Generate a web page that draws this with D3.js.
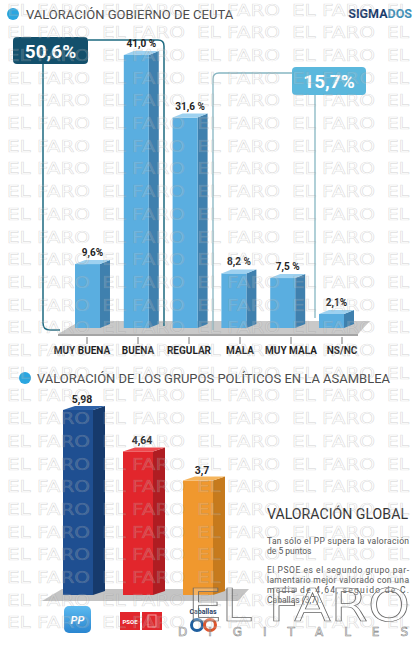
<!DOCTYPE html>
<html lang="es">
<head>
  <meta charset="UTF-8">
  <title>Valoración Gobierno de Ceuta</title>
  <script src="https://d3js.org/d3.v7.min.js"></script>
  <style>
    body { margin: 0; background: #fff; }
    svg { display: block; font-family: Roboto, "Open Sans", sans-serif; }
  </style>
</head>
<body>
  <div id="chart"></div>

  <script>
    // Valoración Gobierno de Ceuta (%)
    const categories = ["MUY BUENA", "BUENA", "REGULAR", "MALA", "MUY MALA", "NS/NC"];
    const values = [9.6, 41.0, 31.6, 8.2, 7.5, 2.1];
    const valueLabels = ["9,6%", "41,0 %", "31,6 %", "8,2 %", "7,5 %", "2,1%"];

    // Valoración de los grupos políticos (media)
    const parties = ["PP", "PSOE", "Caballas"];
    const partyValues = [5.98, 4.64, 3.7];
    const partyLabels = ["5,98", "4,64", "3,7"];

    const noteLines = [
      "Tan sólo el PP supera la valoración",
      "de 5 puntos",
      "",
      "El PSOE es el segundo grupo par-",
      "lamentario mejor valorado con una",
      "media  de  4,64,  seguido  de  C.",
      "Caballas (3,7)."
    ];

    const W = 420, H = 650;
    const svg = d3.select("#chart").append("svg")
      .attr("width", W).attr("height", H);
    const defs = svg.append("defs");

    svg.append("rect").attr("width", W).attr("height", H).attr("fill", "#fff");

    // draws a bar with a small 3d side and top
    function bar3d(g, x, y, w, base, dx, dy, c) {
      g.append("polygon")
        .attr("points", [[x + w, y], [x + w + dx, y - dy], [x + w + dx, base - dy], [x + w, base]].join(" "))
        .attr("fill", c.side);
      g.append("rect")
        .attr("x", x).attr("y", y).attr("width", w).attr("height", base - y)
        .attr("fill", c.front);
      g.append("polygon")
        .attr("points", [[x, y], [x + dx, y - dy], [x + w + dx, y - dy], [x + w, y]].join(" "))
        .attr("fill", c.top);
    }

    // ---------- top chart ----------
    const topG = svg.append("g");

    topG.append("circle").attr("cx", 13).attr("cy", 14).attr("r", 6).attr("fill", "#2aa6e0");
    topG.append("text").attr("x", 26).attr("y", 19)
      .attr("font-size", 13).attr("fill", "#4a4a4a")
      .text("VALORACIÓN GOBIERNO DE CEUTA");

    const sig = topG.append("text").attr("x", 412).attr("y", 18)
      .attr("text-anchor", "end").attr("font-size", 12.5).attr("font-weight", "bold");
    sig.append("tspan").attr("fill", "#1c3d6c").text("SIGMA");
    sig.append("tspan").attr("fill", "#3b8fb8").text("DOS");

    const base1 = 328;
    const x1 = d3.scaleBand().domain(categories).range([75, 344]).paddingInner(0.488);
    const y1 = d3.scaleLinear().domain([0, 41]).range([base1, 55]);
    const tickX = d3.scalePoint().domain(categories).range([87, 342]);

    // floor
    topG.append("polygon")
      .attr("points", [[58, 334], [358, 334], [370, 321], [80, 321]].join(" "))
      .attr("fill", "#c9c9c9");
    topG.append("polygon")
      .attr("points", [[58, 334], [358, 334], [358, 336], [58, 336]].join(" "))
      .attr("fill", "#a5a5a5");

    // brackets
    const dark = "#1d6a80", light = "#86b6c2";
    topG.append("path")
      .attr("d", "M43,64 L43,323 Q43,330 50,330 L60,330")
      .attr("fill", "none").attr("stroke", dark).attr("stroke-width", 1.5);
    topG.append("path")
      .attr("d", "M88,40 L158,40 Q164,40 164,46 L164,326")
      .attr("fill", "none").attr("stroke", dark).attr("stroke-width", 1.5);
    topG.append("path")
      .attr("d", "M292,73 L219,73 Q213,73 213,79 L213,330")
      .attr("fill", "none").attr("stroke", light).attr("stroke-width", 1.3);
    topG.append("path")
      .attr("d", "M315,95 L315,318")
      .attr("fill", "none").attr("stroke", light).attr("stroke-width", 1.3);

    const blue = { front: "#5aaee0", side: "#3f80ae", top: "#9dd1f0" };
    categories.forEach((c, i) => {
      bar3d(topG, x1(c), y1(values[i]), x1.bandwidth(), base1, 10, 4, blue);
    });

    topG.selectAll(".vlab").data(categories).enter().append("text")
      .attr("x", d => x1(d) + x1.bandwidth() / 2 + 5)
      .attr("y", (d, i) => y1(values[i]) - 8)
      .attr("text-anchor", "middle").attr("font-size", 10).attr("font-weight", "bold")
      .attr("fill", "#222")
      .text((d, i) => valueLabels[i]);

    topG.selectAll(".tick").data(categories).enter().append("line")
      .attr("x1", d => tickX(d)).attr("x2", d => tickX(d))
      .attr("y1", 337).attr("y2", 344)
      .attr("stroke", "#777").attr("stroke-width", 1);

    topG.selectAll(".clab").data(categories).enter().append("text")
      .attr("x", d => tickX(d) - (d === "MUY BUENA" ? 5 : 0))
      .attr("y", 354)
      .attr("text-anchor", "middle").attr("font-size", 10).attr("font-weight", "bold")
      .attr("fill", "#1e1e1e")
      .text(d => d);

    // group totals
    const good = d3.sum(values.slice(0, 2));
    const bad = d3.sum(values.slice(3, 5));
    const fmt = v => d3.format(".1f")(v).replace(".", ",") + "%";

    topG.append("rect").attr("x", 13).attr("y", 37).attr("width", 75).attr("height", 27)
      .attr("rx", 4).attr("fill", "#13506c");
    topG.append("text").attr("x", 50.5).attr("y", 57.5).attr("text-anchor", "middle")
      .attr("font-size", 19).attr("font-weight", "bold").attr("fill", "#fff")
      .text(fmt(good));

    topG.append("rect").attr("x", 292).attr("y", 67).attr("width", 74).attr("height", 28)
      .attr("rx", 4).attr("fill", "#5bb8dd");
    topG.append("text").attr("x", 329).attr("y", 88).attr("text-anchor", "middle")
      .attr("font-size", 19).attr("font-weight", "bold").attr("fill", "#fff")
      .text(fmt(bad));

    // ---------- bottom chart ----------
    const botG = svg.append("g");

    botG.append("circle").attr("cx", 25).attr("cy", 378).attr("r", 6).attr("fill", "#2aa6e0");
    botG.append("text").attr("x", 37).attr("y", 383)
      .attr("font-size", 13).attr("fill", "#4a4a4a")
      .attr("textLength", 353).attr("lengthAdjust", "spacingAndGlyphs")
      .text("VALORACIÓN  DE LOS GRUPOS POLÍTICOS EN LA ASAMBLEA");

    const base2 = 595;
    const x2 = d3.scaleBand().domain(parties).range([63, 213]).paddingInner(0.5);
    const y2 = d3.scaleLinear().domain([0, 5.98]).range([base2, 410]);

    botG.append("polygon")
      .attr("points", [[42, 601], [238, 601], [249, 589], [62, 589]].join(" "))
      .attr("fill", "#c4c4c4");

    const partyColors = [
      { front: "#1f4f91", side: "#163a6c", top: "#2e62a8" },
      { front: "#e2262c", side: "#af1d22", top: "#ee4a4f" },
      { front: "#f0982e", side: "#c67a1d", top: "#f6b55c" }
    ];
    parties.forEach((p, i) => {
      bar3d(botG, x2(p), y2(partyValues[i]), x2.bandwidth(), base2, 12, 4, partyColors[i]);
    });

    botG.selectAll(".plab").data(parties).enter().append("text")
      .attr("x", d => x2(d) + x2.bandwidth() / 2 + 4)
      .attr("y", (d, i) => y2(partyValues[i]) - 7)
      .attr("text-anchor", "middle").attr("font-size", 10.5).attr("font-weight", "bold")
      .attr("fill", "#222")
      .text((d, i) => partyLabels[i]);

    // party logos
    const ppDef = defs.append("linearGradient").attr("id", "ppg")
      .attr("x1", 0).attr("y1", 0).attr("x2", 0).attr("y2", 1);
    ppDef.append("stop").attr("offset", 0).attr("stop-color", "#5cbaf0");
    ppDef.append("stop").attr("offset", 1).attr("stop-color", "#2a86d0");
    botG.append("rect").attr("x", 64).attr("y", 606).attr("width", 27).attr("height", 27)
      .attr("rx", 5).attr("fill", "url(#ppg)");
    botG.append("text").attr("x", 77.5).attr("y", 624).attr("text-anchor", "middle")
      .attr("font-size", 11).attr("font-weight", "bold").attr("font-style", "italic")
      .attr("fill", "#fff").text("PP");

    botG.append("rect").attr("x", 120).attr("y", 612).attr("width", 20).attr("height", 18)
      .attr("fill", "#e2262c");
    botG.append("text").attr("x", 130).attr("y", 623.5).attr("text-anchor", "middle")
      .attr("font-size", 6).attr("font-weight", "bold").attr("fill", "#fff").text("PSOE");
    botG.append("rect").attr("x", 142).attr("y", 612).attr("width", 20).attr("height", 18)
      .attr("fill", "#e2262c");
    botG.append("rect").attr("x", 148).attr("y", 615).attr("width", 8).attr("height", 12)
      .attr("fill", "none").attr("stroke", "#f5a0a0").attr("stroke-width", 1);

    botG.append("text").attr("x", 203).attr("y", 614).attr("text-anchor", "middle")
      .attr("font-size", 7).attr("font-weight", "bold").attr("fill", "#2b3f66").text("Caballas");
    botG.append("circle").attr("cx", 197).attr("cy", 625).attr("r", 5.5)
      .attr("fill", "none").attr("stroke", "#1f5f9f").attr("stroke-width", 3);
    botG.append("circle").attr("cx", 210).attr("cy", 625).attr("r", 5.5)
      .attr("fill", "none").attr("stroke", "#e0552b").attr("stroke-width", 3);

    // note text
    botG.append("text").attr("x", 267).attr("y", 519)
      .attr("font-size", 14).attr("fill", "#333")
      .attr("textLength", 141).attr("lengthAdjust", "spacingAndGlyphs")
      .text("VALORACIÓN GLOBAL");

    const noteY = [544, 553.5, 0, 573, 583, 593, 603];
    noteLines.forEach((t, i) => {
      if (!t) return;
      const tx = botG.append("text").attr("x", 267).attr("y", noteY[i])
        .attr("font-size", 8.5).attr("fill", "#555").text(t);
      if (i === 0 || i === 3 || i === 4 || i === 5) {
        tx.attr("textLength", 142).attr("lengthAdjust", "spacing");
      }
    });

    // ---------- watermark over everything ----------
    const wm = svg.append("g").attr("pointer-events", "none");
    d3.range(28).forEach(r => {
      d3.range(5).forEach(c => {
        const last = c === 4;   // only "EL" fits at the right edge
        wm.append("text")
          .attr("x", 7 + c * 95).attr("y", 15.5 + r * 22.7)
          .attr("font-size", 15).attr("font-family", "DejaVu Sans")
          .attr("textLength", last ? 22 : 83).attr("lengthAdjust", "spacingAndGlyphs")
          .attr("fill", "rgba(255,255,255,0.15)")
          .attr("stroke", "rgba(150,150,150,0.32)").attr("stroke-width", 0.6)
          .text(last ? "EL" : "EL FARO");
      });
    });

    // big logo
    wm.append("text").attr("x", 188).attr("y", 621)
      .attr("font-size", 44).attr("font-family", "DejaVu Sans")
      .attr("textLength", 222).attr("lengthAdjust", "spacingAndGlyphs")
      .attr("fill", "rgba(255,255,255,0.25)")
      .attr("stroke", "#666").attr("stroke-width", 0.7)
      .text("EL FARO");
    wm.append("text").attr("x", 178).attr("y", 636)
      .attr("font-size", 12).attr("font-family", "DejaVu Sans")
      .attr("textLength", 230).attr("lengthAdjust", "spacing")
      .attr("fill", "none").attr("stroke", "#888").attr("stroke-width", 0.6)
      .text("DIGITALES");
  </script>
</body>
</html>
